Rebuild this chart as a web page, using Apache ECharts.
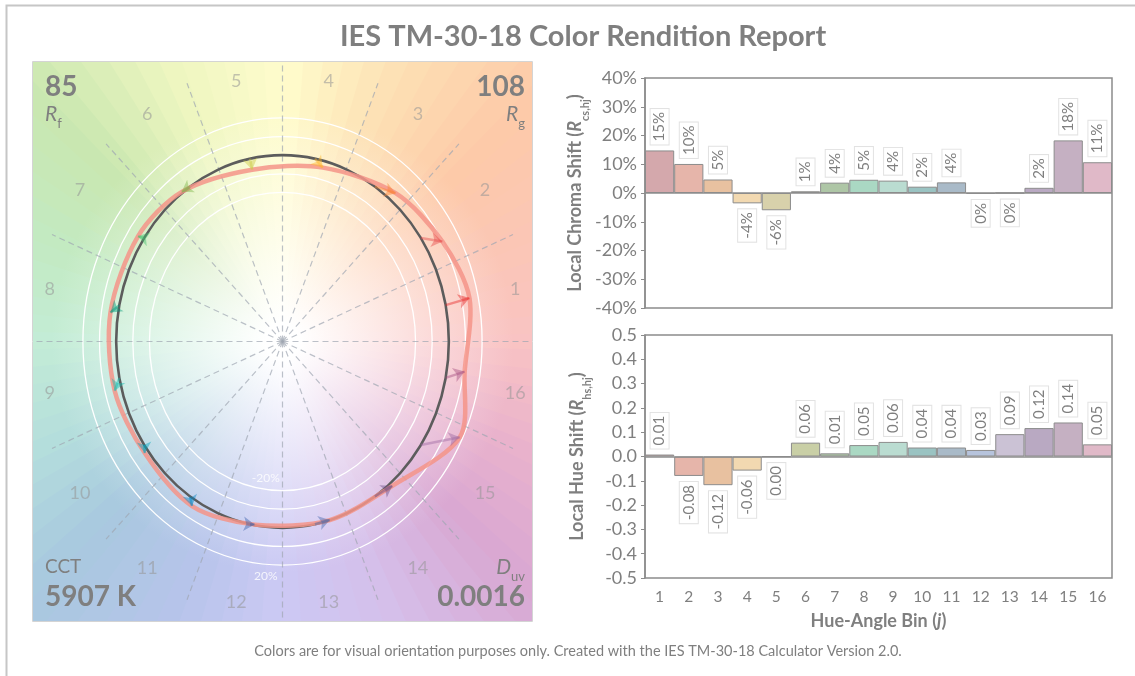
<!DOCTYPE html>
<html><head><meta charset="utf-8">
<script src="https://cdn.jsdelivr.net/npm/echarts@6/dist/echarts.min.js"></script>
<style>html,body{margin:0;padding:0;background:#fff}#c{width:1135px;height:676px}</style>
</head><body><div id="c"></div>
<script>
// ---------- data ----------
const binLabels = ['1','2','3','4','5','6','7','8','9','10','11','12','13','14','15','16'];
const chromaShift = [0.148, 0.101, 0.047, -0.036, -0.060, 0.006, 0.036, 0.046, 0.043, 0.022, 0.037, -0.003, -0.0005, 0.018, 0.183, 0.107];
const hueShift = [0.008, -0.080, -0.118, -0.058, -0.001, 0.057, 0.013, 0.047, 0.060, 0.037, 0.037, 0.027, 0.092, 0.117, 0.140, 0.050];
const ringLevels = [0.8, 0.9, 1.1, 1.2];
const ringLabels = ['-20%', '20%'];
const fidelityIndex = 85;
const gamutIndex = 108;
const cctValue = '5907 K';
const duvValue = '0.0016';
const titleText = 'IES TM-30-18 Color Rendition Report';
const footerText = 'Colors are for visual orientation purposes only. Created with the IES TM-30-18 Calculator Version 2.0.';

// ---------- styles ----------
const barColors = ['#d4a8ac','#e6b5aa','#e8c1a0','#f2d9b1','#d8d1ab','#c9cfa6','#aec6a6','#aad8c3','#badcd1','#9ac3c2','#a9bac8','#b6c3dc','#cbc2d5','#b9a9c2','#c5b0c2','#e0b9c8'];
const binColors = ['#E62828','#E74B4B','#FB812E','#FFB529','#CBCA46','#7EB94C','#41C06D','#009C7C','#16BCB0','#00A4BF','#0085C3','#3B62AA','#4568AE','#6A4E85','#9D69A1','#A74F81'];
const bgStops = ['#f9c3c3','#fbc6b6','#fdcaa8','#fde0b4','#fffccc','#eef6c0','#c9e7b0','#c3eac2','#c3ecd6','#b5dfdc','#a8c9df','#b6c4ea','#ccc9f4','#d5bfea','#d9a8d2','#eab3cc'];
const GRAY = '#7f7f7f';
const FONT = 'Lato';

function hexToRgb(h){h=h.replace('#','');return [parseInt(h.substr(0,2),16),parseInt(h.substr(2,2),16),parseInt(h.substr(4,2),16)];}
function rgba(h,a){const c=hexToRgb(h);return 'rgba('+c[0]+','+c[1]+','+c[2]+','+a+')';}
function bgColorAt(deg){
  const n=bgStops.length, s=360/n; deg=((deg%360)+360)%360;
  const i=Math.floor(deg/s), t=(deg-i*s)/s;
  const a=hexToRgb(bgStops[i]), b=hexToRgb(bgStops[(i+1)%n]);
  return 'rgb('+a.map((v,k)=>Math.round(v+(b[k]-v)*t)).join(',')+')';
}

const binAngle = i => (i + 0.5) * 2 * Math.PI / binLabels.length;
const refPt = i => [Math.cos(binAngle(i)), Math.sin(binAngle(i))];
const testPt = i => { const a = binAngle(i) + hueShift[i], r = 1 + chromaShift[i]; return [r*Math.cos(a), r*Math.sin(a)]; };
const labelPt = i => { const a = binAngle(i), r = 1.40 + 0.07 * Math.abs(Math.sin(2 * a)); return [r*Math.cos(a), r*Math.sin(a)]; };

const chart = echarts.init(document.getElementById('c'));

const WEDGES = 90;
const bgData = Array.from({length: WEDGES}, (_, i) => [i]);

function labelFor(v, fmt){
  const pos = v >= 0;
  return {
    show: true, rotate: 90, position: pos ? 'top' : 'bottom', distance: 6,
    align: pos ? 'left' : 'right', verticalAlign: 'middle',
    formatter: fmt(v), color: GRAY, fontFamily: FONT, fontSize: 15,
    backgroundColor: '#ffffff', borderColor: '#e2e2e2', borderWidth: 1, padding: [2, 3, 1, 3]
  };
}
const pctFmt = v => String(Math.round(v * 100)) + '%';
const hueFmt = v => (Math.round(v * 100) / 100).toFixed(2);

const richName = {
  b: {fontWeight: 'bold', fontSize: 18, color: GRAY, fontFamily: FONT, lineHeight: 24},
  i: {fontWeight: 'bold', fontStyle: 'italic', fontSize: 18, color: GRAY, fontFamily: FONT, lineHeight: 24},
  s: {fontWeight: 'bold', fontSize: 11, color: GRAY, fontFamily: FONT, lineHeight: 24, verticalAlign: 'bottom', padding: [0,0,-4,0]}
};
const subRich = {
  i: {fontStyle: 'italic', fontSize: 21, fontFamily: FONT, fill: GRAY, lineHeight: 24},
  s: {fontSize: 13, fontFamily: FONT, fill: GRAY, lineHeight: 24, verticalAlign: 'bottom', padding: [0,0,-4,0]}
};

const yAxisCommon = {
  axisLine: {show: true, lineStyle: {color: '#8c8c8c', width: 1.5}},
  axisTick: {show: true, length: 4, lineStyle: {color: '#8c8c8c'}},
  splitLine: {show: false},
  nameLocation: 'middle', nameRotate: 90, nameGap: 56,
  nameTextStyle: {rich: richName}
};

const option = {
  backgroundColor: '#ffffff',
  animation: false,
  title: {text: titleText, left: 335, top: 17,
    textStyle: {fontFamily: FONT, fontWeight: 'bold', fontSize: 29, color: GRAY}},
  grid: [
    {left: 33, top: 62, width: 499, height: 559, show: false},
    {left: 645, top: 78, width: 467, height: 230, show: true, borderColor: '#8c8c8c', borderWidth: 1.5, backgroundColor: 'transparent'},
    {left: 645, top: 335, width: 467, height: 243, show: true, borderColor: '#8c8c8c', borderWidth: 1.5, backgroundColor: 'transparent'}
  ],
  xAxis: [
    {gridIndex: 0, type: 'value', min: -1.5, max: 1.5, show: false},
    {gridIndex: 1, type: 'category', data: binLabels, axisLine: {show: false}, axisTick: {show: false}, axisLabel: {show: false}},
    {gridIndex: 2, type: 'category', data: binLabels,
      axisLine: {show: false, onZero: false}, axisTick: {show: false},
      axisLabel: {color: GRAY, fontFamily: FONT, fontSize: 15.5, margin: 11},
      name: '{b|Hue-Angle Bin (}{i|j}{b|)}', nameLocation: 'middle', nameGap: 31,
      nameTextStyle: {rich: richName}}
  ],
  yAxis: [
    {gridIndex: 0, type: 'value', min: -1.5, max: 1.5, show: false},
    Object.assign({gridIndex: 1, type: 'value', min: -0.4, max: 0.4, interval: 0.1,
      axisLabel: {color: GRAY, fontFamily: FONT, fontSize: 18, margin: 8, formatter: v => String(Math.round(v * 100)) + '%'},
      name: '{b|Local Chroma Shift (}{i|R}{s|cs,hj}{b|)}'}, yAxisCommon),
    Object.assign({gridIndex: 2, type: 'value', min: -0.5, max: 0.5, interval: 0.1,
      axisLabel: {color: GRAY, fontFamily: FONT, fontSize: 18, margin: 8, formatter: v => (Math.round(v * 10) / 10).toFixed(1)},
      name: '{b|Local Hue Shift (}{i|R}{s|hs,hj}{b|)}'}, yAxisCommon)
  ],
  series: [
    // background hue wheel
    {type: 'custom', xAxisIndex: 0, yAxisIndex: 0, clip: true, silent: true, z: 0, data: bgData,
      renderItem: (p, api) => {
        const i = api.value(0);
        const c = api.coord([0, 0]);
        const step = 2 * Math.PI / WEDGES;
        const a0 = i * step - step / 2 - 0.004, a1 = i * step + step / 2 + 0.004;
        const R = 700;
        const col = bgColorAt(i * 360 / WEDGES);
        return {type: 'polygon',
          shape: {points: [c, [c[0] + R * Math.cos(a0), c[1] - R * Math.sin(a0)], [c[0] + R * Math.cos(a1), c[1] - R * Math.sin(a1)]]},
          style: {fill: {type: 'radial', x: c[0], y: c[1], r: 330, global: true,
            colorStops: [{offset: 0, color: '#ffffff'}, {offset: 0.05, color: '#ffffff'}, {offset: 0.7, color: col}, {offset: 1, color: col}]}, stroke: null}};
      }},
    // white chroma rings
    {type: 'custom', xAxisIndex: 0, yAxisIndex: 0, silent: true, z: 1, data: ringLevels.map(r => [r]),
      renderItem: (p, api) => {
        const r = api.value(0), c = api.coord([0, 0]), q = api.coord([r, r]);
        return {type: 'ellipse', shape: {cx: c[0], cy: c[1], rx: q[0] - c[0], ry: c[1] - q[1]},
          style: {fill: 'none', stroke: '#ffffff', lineWidth: 1.3}};
      }},
    // bin boundary dashed lines
    {type: 'lines', coordinateSystem: 'cartesian2d', xAxisIndex: 0, yAxisIndex: 0, silent: true, z: 2,
      lineStyle: {color: 'rgba(160,166,178,0.7)', width: 1.2, type: [6, 4], opacity: 1},
      data: binLabels.map((b, i) => { const a = i * 2 * Math.PI / binLabels.length; return {coords: [[0, 0], [1.5 * Math.cos(a), 1.5 * Math.sin(a)]]}; })},
    // bin number labels
    {type: 'scatter', xAxisIndex: 0, yAxisIndex: 0, silent: true, z: 3, symbolSize: 1, itemStyle: {color: 'rgba(0,0,0,0)'},
      label: {show: true, position: 'inside', formatter: '{b}', color: 'rgba(150,150,150,0.7)', fontFamily: FONT, fontSize: 18},
      data: binLabels.map((b, i) => ({name: b, value: labelPt(i)}))},
    // ring labels
    {type: 'scatter', xAxisIndex: 0, yAxisIndex: 0, silent: true, z: 3, symbolSize: 1, itemStyle: {color: 'rgba(0,0,0,0)'},
      label: {show: true, position: 'inside', formatter: '{b}', color: '#ffffff', fontFamily: FONT, fontSize: 12},
      data: [{name: ringLabels[0], value: [-0.1, -0.735]}, {name: ringLabels[1], value: [-0.1, -1.26]}]},
    // reference circle
    {type: 'custom', xAxisIndex: 0, yAxisIndex: 0, silent: true, z: 4, data: [[1]],
      renderItem: (p, api) => {
        const r = api.value(0), c = api.coord([0, 0]), q = api.coord([r, r]);
        return {type: 'ellipse', shape: {cx: c[0], cy: c[1], rx: q[0] - c[0], ry: c[1] - q[1]},
          style: {fill: 'none', stroke: '#5c5c5c', lineWidth: 2.6}};
      }},
    // test source curve
    {type: 'custom', xAxisIndex: 0, yAxisIndex: 0, silent: true, z: 5, data: [[0]],
      renderItem: (p, api) => ({type: 'polygon',
        shape: {points: binLabels.map((b, i) => api.coord(testPt(i))), smooth: 0.3},
        style: {fill: 'none', stroke: 'rgba(244,148,136,0.85)', lineWidth: 4.5}})},
    // shift arrows
    {type: 'lines', coordinateSystem: 'cartesian2d', xAxisIndex: 0, yAxisIndex: 0, silent: true, z: 6,
      symbol: ['none', 'arrow'], symbolSize: 11,
      lineStyle: {width: 2.5, opacity: 1},
      data: binLabels.map((b, i) => ({coords: [refPt(i), testPt(i)], lineStyle: {color: rgba(binColors[i], 0.45)}}))},
    // chroma bars
    {type: 'bar', xAxisIndex: 1, yAxisIndex: 1, barCategoryGap: '0%', z: 3,
      data: chromaShift.map((v, i) => ({value: v, itemStyle: {color: barColors[i], borderColor: '#8c8c8c', borderWidth: 1}, label: labelFor(v, pctFmt)})),
      markLine: {silent: true, symbol: 'none', label: {show: false}, lineStyle: {color: '#8c8c8c', width: 1.5, type: 'solid'}, data: [{yAxis: 0}]}},
    // hue bars
    {type: 'bar', xAxisIndex: 2, yAxisIndex: 2, barCategoryGap: '0%', z: 3,
      data: hueShift.map((v, i) => ({value: v, itemStyle: {color: barColors[i], borderColor: '#8c8c8c', borderWidth: 1}, label: labelFor(v, hueFmt)})),
      markLine: {silent: true, symbol: 'none', label: {show: false}, lineStyle: {color: '#8c8c8c', width: 1.5, type: 'solid'}, data: [{yAxis: 0}]}}
  ],
  graphic: [
    {type: 'rect', left: 4, top: 3, shape: {x: 0, y: 0, width: 1200, height: 800}, style: {fill: 'none', stroke: '#c6c6c6', lineWidth: 2}, silent: true, z: -10},
    {type: 'rect', shape: {x: 32.5, y: 61.5, width: 500, height: 560}, style: {fill: 'none', stroke: '#d4d4d4', lineWidth: 1}, silent: true, z: 10},
    {type: 'text', x: 45, y: 87, style: {text: String(fidelityIndex), font: 'bold 28px Lato', fill: GRAY, textVerticalAlign: 'middle'}, z: 10},
    {type: 'text', x: 45, y: 114, style: {text: '{i|R}{s|f}', rich: subRich, textVerticalAlign: 'middle'}, z: 10},
    {type: 'text', x: 525, y: 87, style: {text: String(gamutIndex), font: 'bold 28px Lato', fill: GRAY, textAlign: 'right', textVerticalAlign: 'middle'}, z: 10},
    {type: 'text', x: 525, y: 114, style: {text: '{i|R}{s|g}', rich: subRich, textAlign: 'right', textVerticalAlign: 'middle'}, z: 10},
    {type: 'text', x: 45, y: 567, style: {text: 'CCT', font: '19px Lato', fill: GRAY, textVerticalAlign: 'middle'}, z: 10},
    {type: 'text', x: 45, y: 597, style: {text: cctValue, font: 'bold 28px Lato', fill: GRAY, textVerticalAlign: 'middle'}, z: 10},
    {type: 'text', x: 525, y: 567, style: {text: '{i|D}{s|uv}', rich: subRich, textAlign: 'right', textVerticalAlign: 'middle'}, z: 10},
    {type: 'text', x: 525, y: 597, style: {text: duvValue, font: 'bold 28px Lato', fill: GRAY, textAlign: 'right', textVerticalAlign: 'middle'}, z: 10},
    {type: 'text', x: 578, y: 651, style: {text: footerText, font: '14.5px Lato', fill: GRAY, textAlign: 'center', textVerticalAlign: 'middle'}, z: 10}
  ]
};
chart.setOption(option);
</script></body></html>
